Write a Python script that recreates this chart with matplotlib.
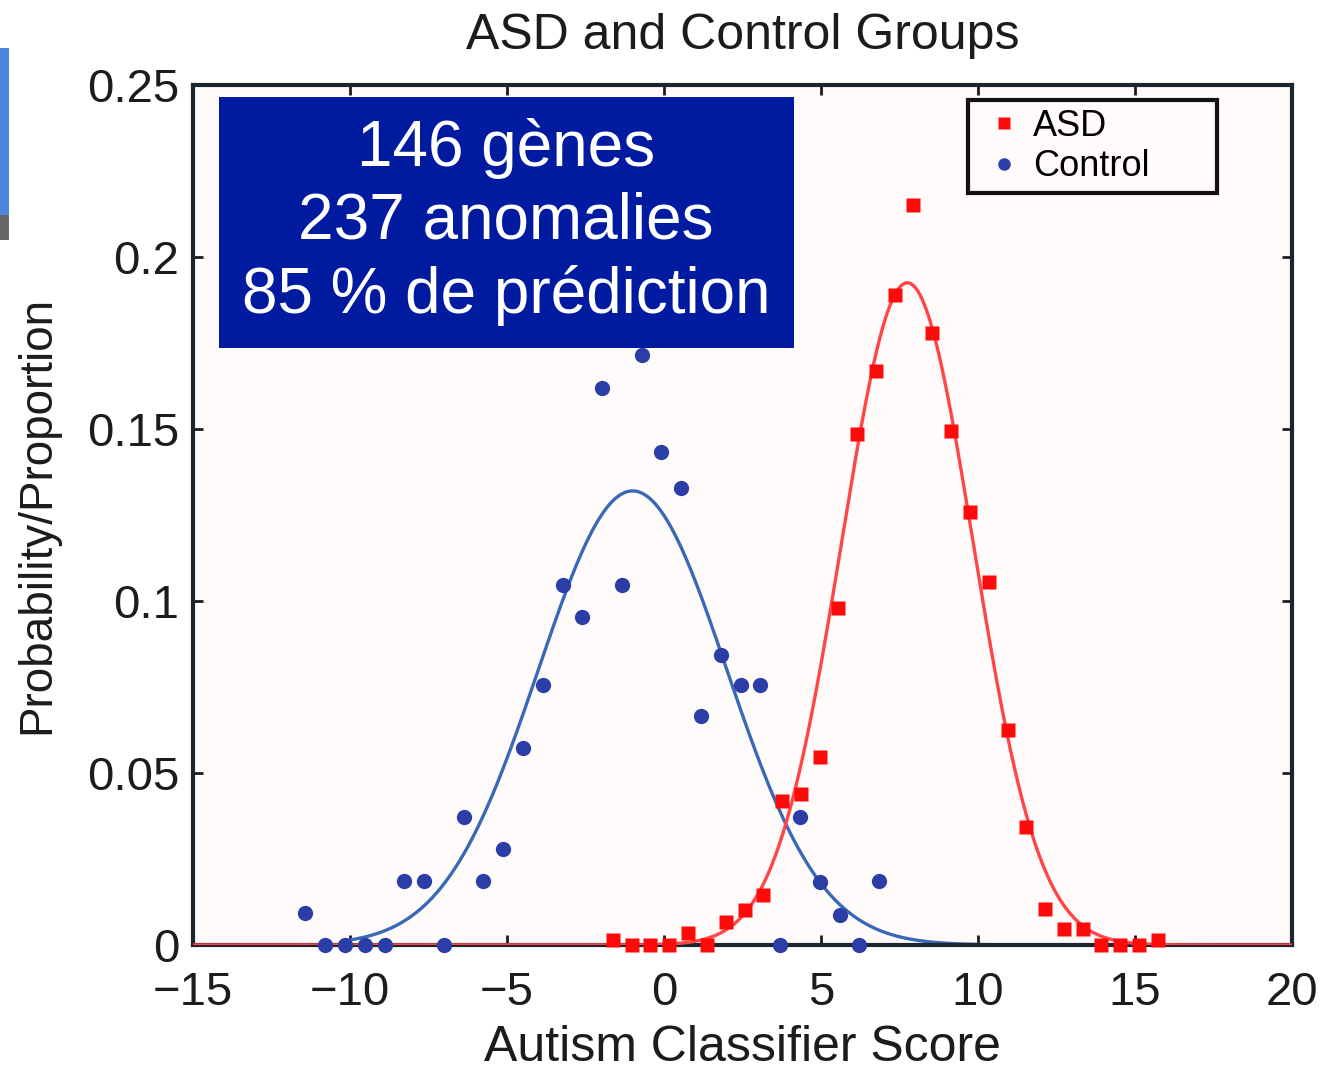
import numpy as np
import matplotlib
matplotlib.use("Agg")
import matplotlib.pyplot as plt
from matplotlib.patches import Rectangle
from matplotlib.lines import Line2D

plt.rcParams['font.family'] = ['Liberation Sans', 'DejaVu Sans']

# ---- data ----
control_x = [-11.42, -10.79, -10.16, -9.53, -8.90, -8.27, -7.64, -7.01, -6.38, -5.75,
             -5.12, -4.49, -3.86, -3.23, -2.60, -1.97, -1.34, -0.71, -0.08, 0.55,
             1.18, 1.81, 2.44, 3.07, 3.70, 4.33, 4.96, 5.59, 6.22, 6.85]
control_y = [0.0093, 0.0, 0.0, 0.0, 0.0, 0.0186, 0.0186, 0.0, 0.0372, 0.0186,
             0.0279, 0.0573, 0.0756, 0.1047, 0.0953, 0.1620, 0.1047, 0.1715, 0.1433, 0.1328,
             0.0666, 0.0843, 0.0756, 0.0756, 0.0, 0.0372, 0.0183, 0.0087, 0.0, 0.0186]

asd_x = [-1.63, -1.03, -0.43, 0.17, 0.77, 1.37, 1.97, 2.57, 3.16, 3.76,
         4.36, 4.96, 5.55, 6.15, 6.75, 7.35, 7.94, 8.54, 9.14, 9.74,
         10.34, 10.94, 11.53, 12.13, 12.73, 13.33, 13.93, 14.52, 15.12, 15.72]
asd_y = [0.0015, 0.0, 0.0, 0.0, 0.0035, 0.0, 0.0067, 0.0102, 0.0145, 0.0420,
         0.0440, 0.0547, 0.0980, 0.1485, 0.1670, 0.1890, 0.2150, 0.1780, 0.1494, 0.1260,
         0.1055, 0.0625, 0.0343, 0.0105, 0.0047, 0.0047, 0.0, 0.0, 0.0, 0.0015]

# normal-fit parameters (amplitude, mean, sigma)
control_fit = (0.132, -1.0, 3.0)
asd_fit = (0.1925, 7.75, 2.1)

x_ticks = [-15, -10, -5, 0, 5, 10, 15, 20]
y_ticks = [0, 0.05, 0.1, 0.15, 0.2, 0.25]
y_ticklabels = ['0', '0.05', '0.1', '0.15', '0.2', '0.25']

W, H = 1323, 1071
fig = plt.figure(figsize=(W / 100, H / 100), dpi=100)
fig.patch.set_facecolor('white')
ax = fig.add_axes([193 / W, 1 - 945 / H, (1292 - 193) / W, (945 - 85) / H])
ax.set_facecolor('#fffbfa')

xc = np.linspace(-10, 20, 600)
xa = np.linspace(-15, 20, 800)
a, m, s = control_fit
ax.plot(xc, a * np.exp(-(xc - m) ** 2 / (2 * s ** 2)), color='#3a68b8', lw=2.4, zorder=2)
a, m, s = asd_fit
ax.plot(xa, a * np.exp(-(xa - m) ** 2 / (2 * s ** 2)), color='#ff4646', lw=2.4, zorder=3)

ax.plot(control_x, control_y, 'o', color='#2b3ea8', ms=11, mec='none', zorder=4, clip_on=False)
ax.plot(asd_x, asd_y, 's', color='#ff0a0a', ms=10, mec='none', zorder=5, clip_on=False)

ax.set_xlim(-15, 20)
ax.set_ylim(0, 0.25)
ax.set_xticks(x_ticks)
ax.set_yticks(y_ticks)
ax.set_yticklabels(y_ticklabels)
ax.tick_params(direction='in', length=7, width=2, top=True, right=True,
               labelsize=34, colors='#1c1c1c', pad=10)
ax.tick_params(axis='x', pad=19)
for sp in ax.spines.values():
    sp.set_linewidth(3)
    sp.set_color('#1c2630')

ax.set_title('ASD and Control Groups', fontsize=36, color='#1c1c1c', pad=26)
ax.set_xlabel('Autism Classifier Score', fontsize=36, color='#1c1c1c', labelpad=7)
ax.set_ylabel('Probability/Proportion', fontsize=33, color='#1c1c1c', labelpad=20)

handles = [Line2D([], [], ls='none', marker='s', color='#ff0a0a', ms=8, mec='none'),
           Line2D([], [], ls='none', marker='o', color='#2b3ea8', ms=9, mec='none')]
lx0 = (968 - 193) / (1292 - 193)
lx1 = (1217 - 193) / (1292 - 193)
ly1 = (945 - 100) / 860
ly0 = (945 - 190) / 860
leg = ax.legend(handles, ['ASD', 'Control'], loc='upper left',
                bbox_to_anchor=(lx0, ly0, lx1 - lx0, ly1 - ly0), mode='expand',
                borderaxespad=0, fontsize=26,
                frameon=True, fancybox=False, framealpha=1, handlelength=1.5,
                handletextpad=0.05, borderpad=0.25, labelspacing=0.15)
leg.get_frame().set_edgecolor('#111111')
leg.get_frame().set_linewidth(3)
leg.get_frame().set_facecolor('#fffbfa')

# overlay box
fig.patches.append(Rectangle((219 / W, 1 - 348 / H), (794 - 219) / W, (348 - 97) / H,
                             transform=fig.transFigure, facecolor='#001aa0',
                             edgecolor='none', zorder=10))
fig.text(506 / W, 1 - 222 / H, '146 gènes\n237 anomalies\n85 % de prédiction',
         ha='center', va='center', color='white', fontsize=46, linespacing=1.27,
         zorder=11)

# slide edge strip
fig.patches.append(Rectangle((0, 1 - 215 / H), 9 / W, (215 - 48) / H,
                             transform=fig.transFigure, facecolor='#4f84dc',
                             edgecolor='none', zorder=10))
fig.patches.append(Rectangle((0, 1 - 240 / H), 9 / W, 25 / H,
                             transform=fig.transFigure, facecolor='#666666',
                             edgecolor='none', zorder=10))

fig.savefig('out.png', dpi=100)
